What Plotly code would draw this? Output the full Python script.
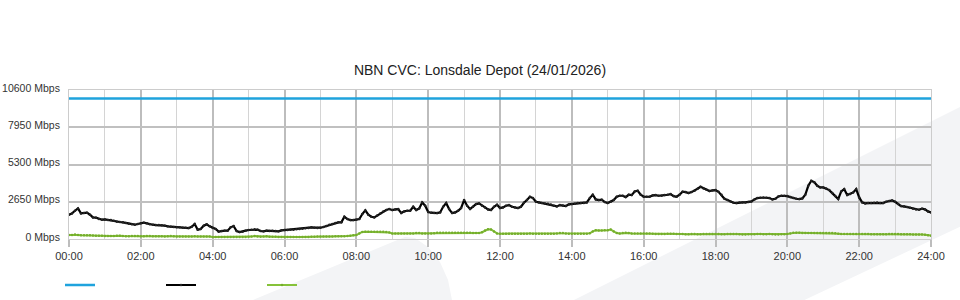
import plotly.graph_objects as go

title = "NBN CVC: Lonsdale Depot (24/01/2026)"
tick_hours = [0, 2, 4, 6, 8, 10, 12, 14, 16, 18, 20, 22, 24]
tick_labels = ["00:00", "02:00", "04:00", "06:00", "08:00", "10:00", "12:00",
               "14:00", "16:00", "18:00", "20:00", "22:00", "24:00"]
y_ticks = [0, 2650, 5300, 7950, 10600]
y_labels = ["0 Mbps", "2650 Mbps", "5300 Mbps", "7950 Mbps", "10600 Mbps"]
step_minutes = 5

capacity = [10000] * 289

traffic_in = [
    1727, 1822, 2011, 2177, 1822, 1845, 1870, 1727, 1538, 1515, 1420, 1372,
    1396, 1349, 1349, 1301, 1230, 1207, 1183, 1136, 1088, 1041, 1017, 1065,
    1112, 1160, 1112, 1041, 1017, 994, 994, 970, 946, 899, 875, 851,
    828, 828, 804, 804, 781, 875, 1065, 662, 710, 946, 1041, 899,
    781, 710, 520, 568, 592, 592, 828, 922, 568, 497, 520, 592,
    639, 662, 686, 662, 568, 544, 592, 568, 592, 568, 544, 615,
    639, 639, 662, 662, 686, 710, 733, 757, 781, 828, 804, 781,
    804, 851, 922, 1017, 1065, 1136, 1183, 1183, 1585, 1420, 1349, 1349,
    1372, 1420, 1775, 2035, 1727, 1585, 1538, 1680, 1822, 1964, 2058, 2129,
    2058, 2106, 2129, 1845, 1964, 2011, 2011, 2295, 2058, 2177, 2603, 2366,
    1916, 1870, 1845, 1845, 1893, 2295, 2555, 2129, 1845, 1893, 2011, 2200,
    2768, 2366, 2129, 2295, 2484, 2532, 2366, 2248, 2106, 2058, 2295, 2437,
    2200, 2248, 2366, 2413, 2295, 2248, 2200, 2295, 2579, 2768, 3005, 2910,
    2650, 2603, 2555, 2532, 2508, 2461, 2366, 2319, 2413, 2390, 2342, 2461,
    2484, 2508, 2555, 2555, 2555, 2603, 2910, 3147, 2816, 2768, 2792, 2626,
    2555, 2650, 2768, 3005, 3076, 3076, 2981, 3147, 3123, 3383, 3431, 3147,
    3005, 3005, 3005, 3100, 3123, 3076, 3076, 3123, 3147, 3194, 3052, 3005,
    3147, 3360, 3336, 3265, 3336, 3431, 3573, 3715, 3596, 3502, 3407, 3455,
    3478, 3360, 3147, 2863, 2768, 2674, 2579, 2555, 2603, 2603, 2603, 2626,
    2674, 2816, 2910, 2934, 2958, 2934, 2910, 2816, 2863, 3028, 3076, 3076,
    3052, 2981, 2910, 2863, 2839, 2887, 3147, 3785, 4141, 4046, 3785, 3667,
    3667, 3596, 3478, 3265, 3052, 2839, 3383, 3549, 3123, 3194, 3312, 3549,
    2958, 2603, 2532, 2555, 2555, 2579, 2603, 2555, 2555, 2650, 2698, 2745,
    2650, 2484, 2342, 2319, 2272, 2224, 2153, 2106, 2082, 2153, 2106, 1964,
    1893,
]

traffic_out = [
    280, 290, 320, 290, 270, 260, 260, 260, 250, 240, 230, 230,
    220, 210, 210, 220, 240, 230, 210, 200, 200, 205, 210, 210,
    200, 200, 210, 210, 190, 190, 190, 190, 185, 190, 220, 200,
    180, 180, 180, 180, 180, 180, 190, 180, 175, 170, 170, 170,
    150, 150, 150, 150, 150, 150, 150, 150, 150, 150, 150, 150,
    155, 170, 210, 180, 160, 170, 190, 160, 155, 160, 150, 150,
    140, 140, 140, 140, 140, 140, 150, 150, 150, 160, 165, 170,
    180, 180, 180, 180, 180, 190, 190, 190, 200, 220, 240, 260,
    280, 400, 500, 510, 510, 510, 510, 510, 510, 510, 500, 460,
    400, 400, 400, 400, 400, 400, 400, 400, 420, 420, 400, 400,
    400, 400, 410, 440, 440, 440, 440, 440, 440, 440, 440, 440,
    440, 440, 440, 420, 420, 420, 480, 600, 690, 680, 540, 400,
    380, 380, 380, 380, 380, 380, 380, 380, 380, 380, 400, 380,
    380, 380, 380, 380, 380, 380, 380, 400, 420, 420, 400, 380,
    380, 380, 380, 380, 380, 380, 410, 540, 620, 610, 610, 630,
    620, 670, 540, 420, 400, 420, 440, 430, 400, 400, 390, 400,
    400, 400, 400, 380, 360, 360, 360, 360, 380, 380, 380, 360,
    360, 360, 340, 340, 360, 350, 340, 340, 360, 360, 360, 360,
    360, 360, 340, 340, 360, 360, 360, 360, 340, 320, 320, 340,
    340, 340, 360, 360, 340, 340, 360, 340, 320, 320, 340, 340,
    360, 400, 440, 450, 440, 420, 420, 420, 420, 420, 420, 420,
    420, 420, 420, 420, 410, 380, 360, 360, 360, 360, 360, 360,
    360, 360, 360, 350, 340, 340, 340, 340, 340, 340, 350, 360,
    360, 350, 340, 340, 340, 330, 320, 320, 320, 320, 300, 270,
    240,
]

hours = [i * step_minutes / 60 for i in range(len(traffic_in))]

W, H = 960, 300
L, R, T, B = 69, 29, 90, 61
PW, PH = W - L - R, H - T - B


def px(x, y):
    return (x - L) / PW, (H - B - y) / PH


def path(points):
    parts = []
    for i, (x, y) in enumerate(points):
        xp, yp = px(x, y)
        parts.append(("M" if i == 0 else "L") + f"{xp:.4f},{yp:.4f}")
    return " ".join(parts) + " Z"


band = path([(1000, 87), (534, 320), (762, 320), (1000, 208)])
swoosh = path([(204, 320), (253, 300), (330, 268), (395, 241), (405, 237),
               (415, 238), (428, 247), (440, 262), (448, 280), (452, 300),
               (453, 320)])

bg = "#f3f4f6"
fig = go.Figure()
fig.add_trace(go.Scatter(x=hours, y=capacity, mode="lines", name="",
                         line=dict(color="#1fa3dd", width=2.5)))
fig.add_trace(go.Scatter(x=hours, y=traffic_in, mode="lines+markers", name="",
                         line=dict(color="#000000", width=2.2),
                         marker=dict(size=2.5, color="#222222")))
fig.add_trace(go.Scatter(x=hours, y=traffic_out, mode="lines+markers", name="",
                         line=dict(color="#86c23a", width=2),
                         marker=dict(size=2.5, color="#74ad2c")))

fig.update_layout(
    width=W, height=H,
    margin=dict(l=L, r=R, t=T, b=B, pad=0, autoexpand=False),
    paper_bgcolor="white",
    plot_bgcolor="rgba(0,0,0,0)",
    font=dict(family="Liberation Sans, Arial, sans-serif", size=11, color="#333333"),
    title=dict(text=title, x=0.5, xref="container", xanchor="center",
               y=1 - 70 / H, yref="container", yanchor="middle",
               font=dict(size=14, color="#222222")),
    showlegend=True,
    legend=dict(orientation="h", x=60 / W, xref="container", xanchor="left",
                y=1 - 285 / H, yref="container", yanchor="middle",
                entrywidth=56, entrywidthmode="pixels",
                bgcolor="rgba(0,0,0,0)", font=dict(size=11)),
    shapes=[
        dict(type="path", path=band, xref="paper", yref="paper",
             fillcolor=bg, line=dict(width=0), layer="below"),
        dict(type="path", path=swoosh, xref="paper", yref="paper",
             fillcolor=bg, line=dict(width=0), layer="below"),
    ],
)

fig.update_xaxes(range=[0, 24], tickvals=tick_hours, ticktext=tick_labels,
                 automargin=False,
                 showgrid=True, gridcolor="#bdbdbd", gridwidth=2,
                 ticks="outside", ticklen=7, tickcolor="#bdbdbd", tickwidth=2,
                 showline=True, mirror=True, linecolor="#cccccc", linewidth=1,
                 zeroline=False,
                 minor=dict(dtick=1, showgrid=True, gridcolor="#d4d4d4", gridwidth=1),
                 tickfont=dict(size=11, color="#333333"))
fig.update_yaxes(range=[0, 10600], tickvals=y_ticks, ticktext=y_labels,
                 automargin=False,
                 showgrid=True, gridcolor="#c0c0c0", gridwidth=2,
                 ticks="", showline=True, mirror=True, linecolor="#cccccc",
                 linewidth=1, zeroline=False, ticklabelstandoff=6,
                 ticklabelshift=-2,
                 tickfont=dict(size=10.5, color="#333333"))

fig.write_html("out.html")
